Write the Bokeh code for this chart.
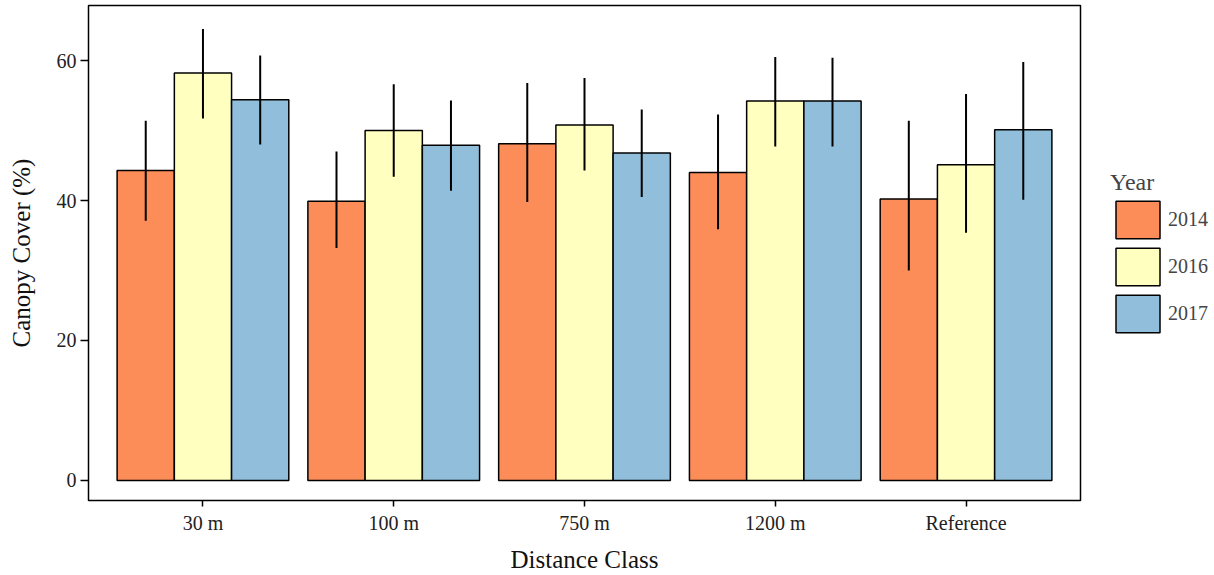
from bokeh.plotting import figure
from bokeh.models import (FactorRange, Range1d, FixedTicker, Legend, LegendItem,
                          ColumnDataSource)
from bokeh.transform import dodge
from bokeh.embed import file_html
from bokeh.resources import INLINE

categories = ["30 m", "100 m", "750 m", "1200 m", "Reference"]
years = ["2014", "2016", "2017"]
colors = ["#FC8D59", "#FFFFBF", "#91BFDB"]

mean_2014 = [44.3, 39.9, 48.1, 44.0, 40.2]
mean_2016 = [58.2, 50.0, 50.8, 54.2, 45.1]
mean_2017 = [54.4, 47.9, 46.8, 54.2, 50.1]
low_2014 = [37.1, 33.2, 39.8, 35.9, 30.0]
high_2014 = [51.4, 47.0, 56.8, 52.3, 51.4]
low_2016 = [51.7, 43.4, 44.3, 47.7, 35.4]
high_2016 = [64.5, 56.6, 57.5, 60.5, 55.2]
low_2017 = [48.0, 41.4, 40.5, 47.7, 40.1]
high_2017 = [60.7, 54.3, 53.0, 60.4, 59.8]

y_ticks = [0, 20, 40, 60]

means = [mean_2014, mean_2016, mean_2017]
lows = [low_2014, low_2016, low_2017]
highs = [high_2014, high_2016, high_2017]

FONT = "Liberation Serif"

p = figure(
    frame_width=992, frame_height=495,
    x_range=FactorRange(factors=categories, range_padding=0.1, range_padding_units="absolute"),
    y_range=Range1d(-2.86, 67.86),
    output_backend="svg", toolbar_location=None,
    min_border_left=88, min_border_right=132, min_border_top=5, min_border_bottom=74,
)
p.background_fill_color = "white"
p.border_fill_color = "white"
p.outline_line_color = "black"
p.outline_line_width = 1.5
p.xgrid.visible = False
p.ygrid.visible = False

offsets = [-0.3, 0.0, 0.3]
items = []
for yr, col, m, lo, hi, off in zip(years, colors, means, lows, highs, offsets):
    src = ColumnDataSource(dict(cat=categories, top=m, lo=lo, hi=hi))
    r = p.vbar(x=dodge("cat", off, range=p.x_range), top="top", bottom=0, width=0.3,
               source=src, fill_color=col, line_color="black", line_width=1.5)
    p.segment(x0=dodge("cat", off, range=p.x_range), x1=dodge("cat", off, range=p.x_range),
              y0="lo", y1="hi", source=src, line_color="black", line_width=2)
    items.append(LegendItem(label=yr, renderers=[r]))

legend = Legend(items=items, title="Year", location=(30, 163))
legend.title_text_font = FONT
legend.title_text_font_size = "24px"
legend.title_text_font_style = "normal"
legend.title_standoff = 0
legend.label_text_font = FONT
legend.label_text_font_size = "20px"
legend.glyph_width = 55
legend.glyph_height = 47
legend.spacing = 0
legend.label_standoff = 3
legend.padding = 0
legend.margin = 0
legend.border_line_color = None
legend.background_fill_alpha = 0
p.add_layout(legend, "right")

for ax in (p.xaxis[0], p.yaxis[0]):
    ax.axis_line_color = None
    ax.major_tick_line_color = "black"
    ax.major_tick_line_width = 1.5
    ax.major_tick_in = 0
    ax.minor_tick_line_color = None
    ax.major_label_text_font = FONT
    ax.major_label_text_font_size = "20px"
    ax.major_label_text_color = "#222222"
    ax.axis_label_text_font = FONT
    ax.axis_label_text_font_style = "normal"
    ax.axis_label_text_font_size = "25px"
    ax.axis_label_text_color = "#111111"

p.yaxis[0].ticker = FixedTicker(ticks=y_ticks)
p.yaxis[0].axis_label = "Canopy Cover (%)"
p.yaxis[0].major_tick_out = 8
p.yaxis[0].major_label_standoff = 4
p.yaxis[0].axis_label_standoff = 19
p.xaxis[0].axis_label = "Distance Class"
p.xaxis[0].major_tick_out = 6
p.xaxis[0].major_label_standoff = 5
p.xaxis[0].axis_label_standoff = 9

open("out.html", "w").write(file_html(p, INLINE))
